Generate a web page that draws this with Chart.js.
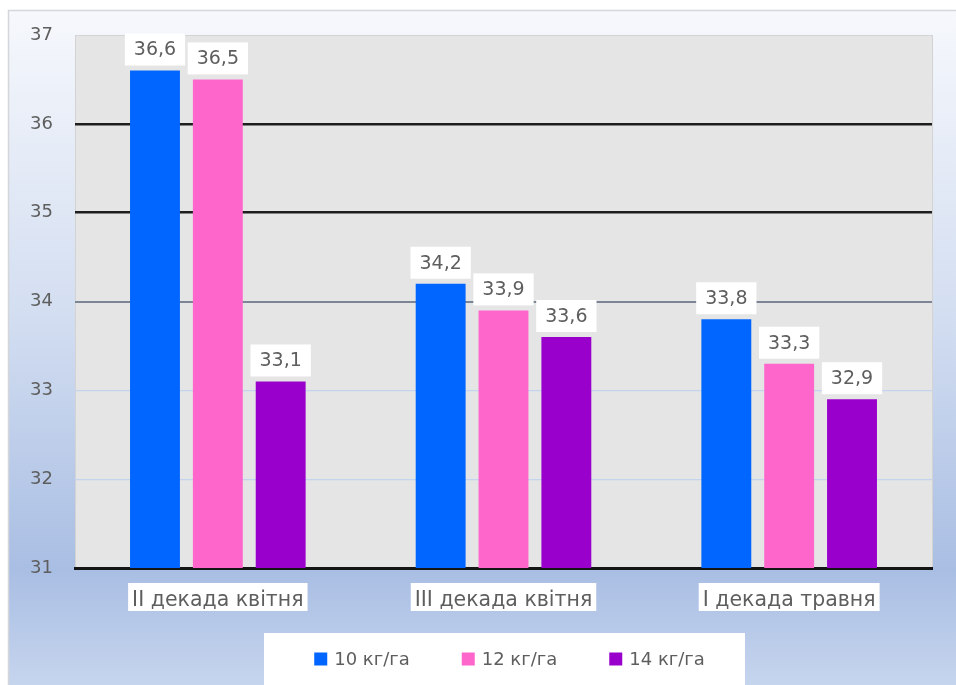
<!DOCTYPE html>
<html>
<head>
<meta charset="utf-8">
<script src="https://cdn.jsdelivr.net/npm/chart.js@4.4.1/dist/chart.umd.min.js"></script>
<style>
html, body { margin: 0; padding: 0; background: #fff; }
#wrap { width: 956px; height: 685px; position: relative; }
</style>
</head>
<body>
<div id="wrap"><canvas id="chart" width="956" height="685"></canvas></div>
<script>
// data
var categories = ["II декада квітня", "III декада квітня", "I декада травня"];
var seriesNames = ["10 кг/га", "12 кг/га", "14 кг/га"];
var values10 = [36.6, 34.2, 33.8];
var values12 = [36.5, 33.9, 33.3];
var values14 = [33.1, 33.6, 32.9];
var yMin = 31, yMax = 37, yStep = 1;
var seriesColors = ["#0066ff", "#ff66cc", "#9900cc"];

var textColor = "#5e5e5e";
var fontFamily = "'DejaVu Sans', Verdana, sans-serif";
var catFontSize = 20.5;

function fmt(v) {
    return v.toFixed(1).replace(".", ",");
}

// background, frame, plot area and the white boxes behind the category labels
var backgroundPlugin = {
    id: "backgroundPlugin",
    beforeDraw: function (chart) {
        var ctx = chart.ctx, a = chart.chartArea;
        var W = chart.width, H = chart.height;
        ctx.save();
        ctx.fillStyle = "#ffffff";
        ctx.fillRect(0, 0, W, H);
        var g = ctx.createLinearGradient(0, 10, 0, H);
        g.addColorStop(0, "#f6f8fc");
        g.addColorStop(0.45, "#d3def1");
        g.addColorStop(0.83, "#a9bee3");
        g.addColorStop(1, "#c6d5ee");
        ctx.fillStyle = g;
        ctx.fillRect(8, 10, W - 8, H - 10);
        ctx.strokeStyle = "#d4d6da";
        ctx.lineWidth = 1.5;
        ctx.beginPath();
        ctx.moveTo(8.5, H);
        ctx.lineTo(8.5, 10.5);
        ctx.lineTo(W, 10.5);
        ctx.stroke();

        ctx.fillStyle = "#e5e5e5";
        ctx.fillRect(a.left, a.top, a.right - a.left, a.bottom - a.top);
        ctx.strokeStyle = "#d3d3d3";
        ctx.lineWidth = 1;
        ctx.strokeRect(a.left + 0.5, a.top + 0.5, a.right - a.left, a.bottom - a.top);

        // white boxes under x labels
        var xs = chart.scales.x;
        ctx.font = catFontSize + "px " + fontFamily;
        for (var i = 0; i < categories.length; i++) {
            var cx = xs.getPixelForTick(i);
            var w = ctx.measureText(categories[i]).width + 8;
            ctx.fillStyle = "#ffffff";
            ctx.fillRect(cx - w / 2, a.bottom + 15, w, 28);
        }
        ctx.restore();
    }
};

// value labels in white boxes above bars
var valueLabelPlugin = {
    id: "valueLabelPlugin",
    afterDatasetsDraw: function (chart) {
        var ctx = chart.ctx;
        ctx.save();
        ctx.font = "19px " + fontFamily;
        ctx.textAlign = "center";
        ctx.textBaseline = "middle";
        chart.data.datasets.forEach(function (ds, di) {
            var meta = chart.getDatasetMeta(di);
            meta.data.forEach(function (bar, i) {
                var txt = fmt(ds.data[i]);
                var w = ctx.measureText(txt).width + 18;
                var h = 32;
                var bottom = bar.y - 5;
                ctx.fillStyle = "#ffffff";
                ctx.fillRect(bar.x - w / 2, bottom - h, w, h);
                ctx.fillStyle = textColor;
                ctx.fillText(txt, bar.x, bottom - h / 2 + 1);
            });
        });
        ctx.restore();
    }
};

// legend in a white box under the chart
var legendPlugin = {
    id: "legendPlugin",
    afterDraw: function (chart) {
        var ctx = chart.ctx;
        var boxL = 264, boxR = 745, boxT = 633;
        ctx.save();
        ctx.fillStyle = "#ffffff";
        ctx.fillRect(boxL, boxT, boxR - boxL, chart.height - boxT);
        ctx.font = "18px " + fontFamily;
        ctx.textBaseline = "middle";
        var sq = 13, gapText = 7, gapItem = 52;
        var widths = chart.data.datasets.map(function (ds) {
            return sq + gapText + ctx.measureText(ds.label).width;
        });
        var total = widths.reduce(function (s, w) { return s + w; }, 0) + gapItem * (widths.length - 1);
        var x = (boxL + boxR) / 2 + 5 - total / 2;
        var cy = 659;
        chart.data.datasets.forEach(function (ds, i) {
            ctx.fillStyle = ds.backgroundColor;
            ctx.fillRect(x, cy - sq / 2, sq, sq);
            ctx.fillStyle = textColor;
            ctx.fillText(ds.label, x + sq + gapText, cy + 1);
            x += widths[i] + gapItem;
        });
        ctx.restore();
    }
};

function gridColor(c) {
    var v = c.tick ? c.tick.value : null;
    if (v === 36 || v === 35) return "#1e1e1e";
    if (v === 34) return "#7c8595";
    if (v === 33 || v === 32) return "#c4d4ee";
    return "rgba(0,0,0,0)";
}
function gridWidth(c) {
    var v = c.tick ? c.tick.value : null;
    if (v === 36 || v === 35) return 2.5;
    if (v === 34) return 2;
    return 1.2;
}

var allValues = [values10, values12, values14];

var chart = new Chart(document.getElementById("chart"), {
    type: "bar",
    data: {
        labels: categories,
        datasets: allValues.map(function (vals, i) {
            return {
                label: seriesNames[i],
                data: vals,
                backgroundColor: seriesColors[i],
                borderWidth: 0,
                categoryPercentage: 0.66,
                barPercentage: 0.794
            };
        })
    },
    options: {
        responsive: false,
        animation: false,
        devicePixelRatio: 1,
        layout: { padding: { top: 35, right: 24, bottom: 52, left: 0 } },
        plugins: {
            legend: { display: false },
            tooltip: { enabled: false }
        },
        scales: {
            x: {
                grid: { display: false },
                border: { display: true, color: "#141414", width: 3 },
                ticks: {
                    color: textColor,
                    font: { size: catFontSize, family: fontFamily },
                    padding: 12,
                    maxRotation: 0
                },
                afterFit: function (s) { s.height = 65; }
            },
            y: {
                min: yMin,
                max: yMax,
                border: { display: false },
                grid: { color: gridColor, lineWidth: gridWidth, drawTicks: false },
                ticks: {
                    stepSize: yStep,
                    color: textColor,
                    font: { size: 18, family: fontFamily },
                    padding: 22
                },
                afterFit: function (s) { s.width = 75; }
            }
        }
    },
    plugins: [backgroundPlugin, valueLabelPlugin, legendPlugin]
});
</script>
</body>
</html>
